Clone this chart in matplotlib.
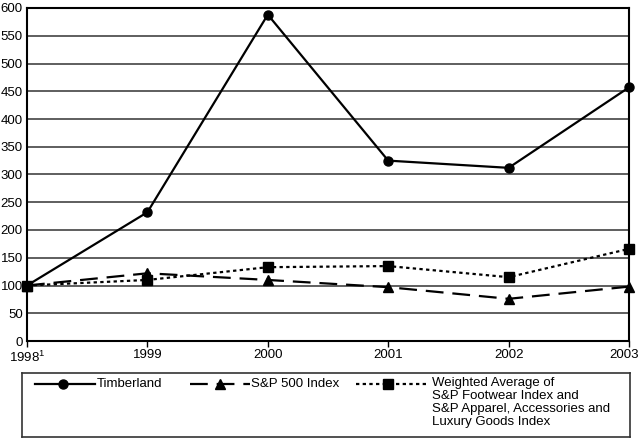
import matplotlib
matplotlib.use("Agg")
import matplotlib.pyplot as plt
import matplotlib.transforms as mtransforms
from matplotlib.lines import Line2D

plt.rcParams['font.family'] = ['Liberation Sans', 'DejaVu Sans']
plt.rcParams['mathtext.fontset'] = 'custom'
plt.rcParams['mathtext.rm'] = 'Liberation Sans'
plt.rcParams['mathtext.default'] = 'rm'

# data
years = ['1998$^{1}$', '1999', '2000', '2001', '2002', '2003']
timberland = [100, 232, 588, 325, 312, 457]
sp500 = [100, 122, 110, 97, 76, 98]
weighted = [100, 110, 133, 135, 115, 166]
yticks = list(range(0, 601, 50))

fig = plt.figure(figsize=(6.42, 4.38), dpi=100)
ax = fig.add_axes([27 / 642, 1 - 341 / 438, 602 / 642, 333 / 438])

x = list(range(len(years)))
ax.plot(x, timberland, '-', color='black', lw=1.6, marker='o', ms=6.5, zorder=5, clip_on=False)
ax.plot(x, sp500, color='black', lw=1.6, dashes=(8, 4), marker='^', ms=7, zorder=4, clip_on=False)
ax.plot(x, weighted, color='black', lw=1.6, dashes=(1.5, 1.5), marker='s', ms=6.5, zorder=4, clip_on=False)

ax.set_xlim(0, 5)
ax.set_ylim(0, 600)
ax.set_yticks(yticks)
ax.set_xticks(x)
ax.set_xticklabels(years)
for y in yticks:
    ax.axhline(y, color='#333333', lw=1.1, zorder=1)
for s in ax.spines.values():
    s.set_color('black')
    s.set_linewidth(1.5)
ax.tick_params(axis='y', length=0, pad=3, labelsize=9.5)
ax.tick_params(axis='x', length=4, direction='out', pad=2, labelsize=9.5, width=1)
# last label right-aligned so it stays inside the figure
lab = ax.get_xticklabels()[-1]
lab.set_horizontalalignment('right')
lab.set_transform(lab.get_transform() + mtransforms.ScaledTranslation(10 / 100, 0, fig.dpi_scale_trans))

# legend box
lax = fig.add_axes([22 / 642, 1 / 438, 608 / 642, 64 / 438])
lax.set_xlim(0, 608)
lax.set_ylim(64, 0)
lax.set_xticks([])
lax.set_yticks([])
for s in lax.spines.values():
    s.set_color('#333333')
    s.set_linewidth(1.2)

yl = 11
lax.add_line(Line2D([13, 73], [yl, yl], color='black', lw=1.6))
lax.add_line(Line2D([41], [yl], color='black', marker='o', ms=6.5))
lax.text(75, yl, 'Timberland', va='center', ha='left', fontsize=9.5)

lax.add_line(Line2D([168, 228], [yl, yl], color='black', lw=1.6, dashes=(8, 4)))
lax.add_line(Line2D([198], [yl], color='black', marker='^', ms=7))
lax.text(229, yl, 'S&P 500 Index', va='center', ha='left', fontsize=9.5)

lax.add_line(Line2D([334, 405], [yl, yl], color='black', lw=1.6, dashes=(1.5, 1.5)))
lax.add_line(Line2D([366], [yl], color='black', marker='s', ms=6.5))
lax.text(410, yl - 7, 'Weighted Average of\nS&P Footwear Index and\nS&P Apparel, Accessories and\nLuxury Goods Index',
         va='top', ha='left', fontsize=9.5, linespacing=1.12)

fig.savefig('out.png', dpi=100)
